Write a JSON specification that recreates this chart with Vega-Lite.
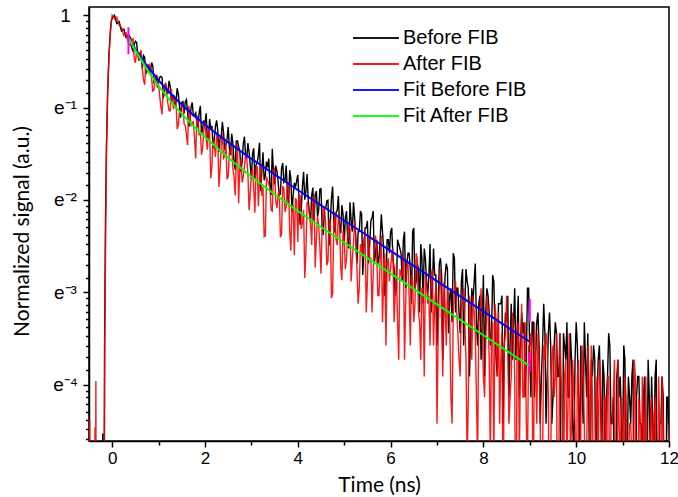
{
"$schema": "https://vega.github.io/schema/vega-lite/v6.json",
"width": 580, "height": 434,
"autosize": {"type": "none"},
"padding": {"left": 89, "top": 7, "right": 9, "bottom": 56},
"background": "white",
"config": {
  "view": {"stroke": "black", "strokeWidth": 1.5},
  "axis": {"grid": false, "domainColor": "black", "domainWidth": 1.5, "tickColor": "black", "tickWidth": 1.5, "labelColor": "black", "titleColor": "black", "labelFont": "Liberation Sans", "labelFontSize": 17, "titleFont": "Lato", "titleFontSize": 21, "titleFontWeight": "normal", "labelOverlap": false, "labelFlush": false},
  "legend": {"orient": "none", "legendX": 277, "legendY": 21, "symbolType": "M-3,0H3", "symbolSize": 235, "symbolStrokeWidth": 2, "labelFont": "Liberation Sans", "labelFontSize": 20, "labelColor": "black", "labelOffset": 17, "padding": 0, "rowPadding": 6, "title": null}
},
"datasets": {
"before": [
{"time":-0.5,"lnsig":-6.5},{"time":-0.21,"lnsig":-6.5},{"time":-0.205,"lnsig":-4.53},{"time":-0.195,"lnsig":-6.5},{"time":-0.18,"lnsig":-6.5},{"time":-0.165,"lnsig":-3.6},{"time":-0.145,"lnsig":-2.25},{"time":-0.125,"lnsig":-1.45},{"time":-0.1,"lnsig":-0.88},{"time":-0.07,"lnsig":-0.43},{"time":-0.04,"lnsig":-0.17},{"time":-0.02,"lnsig":-0.06},{"time":0,"lnsig":-0.03},{"time":0.05,"lnsig":0},{"time":0.1,"lnsig":-0.09},{"time":0.15,"lnsig":-0.07},{"time":0.2,"lnsig":-0.17},{"time":0.25,"lnsig":-0.15},{"time":0.3,"lnsig":-0.24},{"time":0.35,"lnsig":-0.21},
{"time":0.4,"lnsig":-0.249},{"time":0.45,"lnsig":-0.388},{"time":0.5,"lnsig":-0.281},{"time":0.55,"lnsig":-0.422},{"time":0.6,"lnsig":-0.423},{"time":0.65,"lnsig":-0.579},{"time":0.7,"lnsig":-0.454},{"time":0.75,"lnsig":-0.539},{"time":0.8,"lnsig":-0.62},{"time":0.85,"lnsig":-0.512},{"time":0.9,"lnsig":-0.718},{"time":0.95,"lnsig":-0.645},
{"time":1.0,"lnsig":-0.721},{"time":1.05,"lnsig":-0.661},{"time":1.1,"lnsig":-0.897},{"time":1.15,"lnsig":-0.74},{"time":1.2,"lnsig":-0.848},{"time":1.25,"lnsig":-0.764},{"time":1.3,"lnsig":-0.869},{"time":1.35,"lnsig":-0.99},{"time":1.4,"lnsig":-0.79},{"time":1.45,"lnsig":-0.983},{"time":1.5,"lnsig":-0.941},{"time":1.55,"lnsig":-1.063},{"time":1.6,"lnsig":-0.914},{"time":1.65,"lnsig":-1.207},{"time":1.7,"lnsig":-0.995},{"time":1.75,"lnsig":-1.09},{"time":1.8,"lnsig":-1.057},{"time":1.85,"lnsig":-1.213},{"time":1.9,"lnsig":-0.981},{"time":1.95,"lnsig":-1.218},
{"time":2.0,"lnsig":-1.163},{"time":2.05,"lnsig":-1.347},{"time":2.1,"lnsig":-1.124},{"time":2.15,"lnsig":-1.198},{"time":2.2,"lnsig":-1.338},{"time":2.25,"lnsig":-1.138},{"time":2.3,"lnsig":-1.476},{"time":2.35,"lnsig":-1.308},{"time":2.4,"lnsig":-1.272},{"time":2.45,"lnsig":-1.401},{"time":2.5,"lnsig":-1.211},{"time":2.55,"lnsig":-1.515},{"time":2.6,"lnsig":-1.379},{"time":2.65,"lnsig":-1.671},{"time":2.7,"lnsig":-1.359},{"time":2.75,"lnsig":-1.465},{"time":2.8,"lnsig":-1.582},{"time":2.85,"lnsig":-1.314},{"time":2.9,"lnsig":-1.551},{"time":2.95,"lnsig":-1.481},
{"time":3.0,"lnsig":-1.772},{"time":3.05,"lnsig":-1.441},{"time":3.1,"lnsig":-1.619},{"time":3.15,"lnsig":-1.514},{"time":3.2,"lnsig":-1.903},{"time":3.25,"lnsig":-1.483},{"time":3.3,"lnsig":-1.733},{"time":3.35,"lnsig":-1.646},{"time":3.4,"lnsig":-1.845},{"time":3.45,"lnsig":-1.446},{"time":3.5,"lnsig":-1.832},{"time":3.55,"lnsig":-1.688},{"time":3.6,"lnsig":-1.944},{"time":3.65,"lnsig":-1.657},{"time":3.7,"lnsig":-1.807},{"time":3.75,"lnsig":-1.626},{"time":3.8,"lnsig":-2.058},{"time":3.85,"lnsig":-1.763},{"time":3.9,"lnsig":-1.952},{"time":3.95,"lnsig":-1.862},
{"time":4.0,"lnsig":-1.727},{"time":4.05,"lnsig":-2.269},{"time":4.1,"lnsig":-1.85},{"time":4.15,"lnsig":-1.996},{"time":4.2,"lnsig":-1.718},{"time":4.25,"lnsig":-2.137},{"time":4.3,"lnsig":-1.946},{"time":4.35,"lnsig":-2.242},{"time":4.4,"lnsig":-1.904},{"time":4.45,"lnsig":-2.113},{"time":4.5,"lnsig":-1.877},{"time":4.55,"lnsig":-2.38},{"time":4.6,"lnsig":-2.09},{"time":4.65,"lnsig":-2.002},{"time":4.7,"lnsig":-2.267},{"time":4.75,"lnsig":-1.855},{"time":4.8,"lnsig":-2.354},{"time":4.85,"lnsig":-2.113},{"time":4.9,"lnsig":-2.279},{"time":4.95,"lnsig":-2.056},
{"time":5.0,"lnsig":-2.474},{"time":5.05,"lnsig":-2.12},{"time":5.1,"lnsig":-2.525},{"time":5.15,"lnsig":-2.225},{"time":5.2,"lnsig":-2.024},{"time":5.25,"lnsig":-2.43},{"time":5.3,"lnsig":-2.343},{"time":5.35,"lnsig":-2.12},{"time":5.4,"lnsig":-2.813},{"time":5.45,"lnsig":-2.302},{"time":5.5,"lnsig":-2.225},{"time":5.55,"lnsig":-2.476},{"time":5.6,"lnsig":-2.189},{"time":5.65,"lnsig":-2.688},{"time":5.7,"lnsig":-2.43},{"time":5.75,"lnsig":-2.631},{"time":5.8,"lnsig":-2.154},{"time":5.85,"lnsig":-2.525},{"time":5.9,"lnsig":-2.882},{"time":5.95,"lnsig":-2.43},
{"time":6.0,"lnsig":-2.343},{"time":6.05,"lnsig":-2.631},{"time":6.1,"lnsig":-3.036},{"time":6.15,"lnsig":-2.43},{"time":6.2,"lnsig":-2.525},{"time":6.25,"lnsig":-2.882},{"time":6.3,"lnsig":-2.343},{"time":6.35,"lnsig":-2.688},{"time":6.4,"lnsig":-2.577},{"time":6.45,"lnsig":-3.123},{"time":6.5,"lnsig":-2.302},{"time":6.55,"lnsig":-2.882},{"time":6.6,"lnsig":-2.748},{"time":6.65,"lnsig":-2.476},{"time":6.7,"lnsig":-3.123},{"time":6.75,"lnsig":-2.631},{"time":6.8,"lnsig":-3.036},{"time":6.85,"lnsig":-2.476},{"time":6.9,"lnsig":-2.956},{"time":6.95,"lnsig":-2.813},
{"time":7.0,"lnsig":-3.575},{"time":7.05,"lnsig":-2.688},{"time":7.1,"lnsig":-2.813},{"time":7.15,"lnsig":-3.123},{"time":7.2,"lnsig":-2.688},{"time":7.25,"lnsig":-3.442},{"time":7.3,"lnsig":-2.956},{"time":7.35,"lnsig":-2.577},{"time":7.4,"lnsig":-3.218},{"time":7.45,"lnsig":-2.956},{"time":7.5,"lnsig":-3.442},{"time":7.55,"lnsig":-2.748},{"time":7.6,"lnsig":-3.123},{"time":7.65,"lnsig":-2.882},{"time":7.7,"lnsig":-3.912},{"time":7.75,"lnsig":-2.956},{"time":7.8,"lnsig":-2.882},{"time":7.85,"lnsig":-3.324},{"time":7.9,"lnsig":-3.123},{"time":7.95,"lnsig":-3.729},
{"time":8.0,"lnsig":-2.813},{"time":8.05,"lnsig":-3.218},{"time":8.1,"lnsig":-3.036},{"time":8.15,"lnsig":-3.575},{"time":8.2,"lnsig":-2.813},{"time":8.25,"lnsig":-3.442},{"time":8.3,"lnsig":-3.912},{"time":8.35,"lnsig":-3.123},{"time":8.4,"lnsig":-3.036},{"time":8.45,"lnsig":-3.575},{"time":8.5,"lnsig":-3.324},{"time":8.55,"lnsig":-4.135},{"time":8.6,"lnsig":-3.123},{"time":8.65,"lnsig":-3.324},{"time":8.7,"lnsig":-3.729},{"time":8.75,"lnsig":-3.036},{"time":8.8,"lnsig":-3.575},{"time":8.85,"lnsig":-3.442},{"time":8.9,"lnsig":-4.135},{"time":8.95,"lnsig":-2.956},
{"time":9.0,"lnsig":-3.729},{"time":9.05,"lnsig":-3.324},{"time":9.1,"lnsig":-4.135},{"time":9.15,"lnsig":-3.324},{"time":9.2,"lnsig":-3.575},{"time":9.25,"lnsig":-3.912},{"time":9.3,"lnsig":-3.123},{"time":9.35,"lnsig":-4.422},{"time":9.4,"lnsig":-3.442},{"time":9.45,"lnsig":-3.575},{"time":9.5,"lnsig":-4.135},{"time":9.55,"lnsig":-3.324},{"time":9.6,"lnsig":-3.912},{"time":9.65,"lnsig":-3.442},{"time":9.7,"lnsig":-5.521},{"time":9.75,"lnsig":-3.575},{"time":9.8,"lnsig":-3.324},{"time":9.85,"lnsig":-4.135},{"time":9.9,"lnsig":-3.729},{"time":9.95,"lnsig":-4.828},
{"time":10.0,"lnsig":-3.324},{"time":10.05,"lnsig":-4.135},{"time":10.1,"lnsig":-3.575},{"time":10.15,"lnsig":-4.422},{"time":10.2,"lnsig":-3.729},{"time":10.25,"lnsig":-3.442},{"time":10.3,"lnsig":-5.521},{"time":10.35,"lnsig":-3.912},{"time":10.4,"lnsig":-3.729},{"time":10.45,"lnsig":-4.135},{"time":10.5,"lnsig":-3.575},{"time":10.55,"lnsig":-4.828},{"time":10.6,"lnsig":-3.912},{"time":10.65,"lnsig":-4.135},{"time":10.7,"lnsig":-3.442},{"time":10.75,"lnsig":-4.422},{"time":10.8,"lnsig":-4.135},{"time":10.85,"lnsig":-5.521},{"time":10.9,"lnsig":-3.729},{"time":10.95,"lnsig":-3.912},
{"time":11.0,"lnsig":-4.828},{"time":11.05,"lnsig":-3.729},{"time":11.1,"lnsig":-4.828},{"time":11.15,"lnsig":-4.135},{"time":11.2,"lnsig":-3.912},{"time":11.25,"lnsig":-6.5},{"time":11.3,"lnsig":-4.135},{"time":11.35,"lnsig":-3.912},{"time":11.4,"lnsig":-4.422},{"time":11.45,"lnsig":-4.135},{"time":11.5,"lnsig":-5.521},{"time":11.55,"lnsig":-3.729},{"time":11.6,"lnsig":-4.828},{"time":11.65,"lnsig":-4.422},{"time":11.7,"lnsig":-3.912},{"time":11.75,"lnsig":-6.5},{"time":11.8,"lnsig":-4.422},{"time":11.85,"lnsig":-3.912},{"time":11.9,"lnsig":-5.521},{"time":11.95,"lnsig":-4.135},{"time":12.0,"lnsig":-4.828},
{"time":0.425,"lnsig":-0.354},{"time":0.475,"lnsig":-0.317},{"time":0.525,"lnsig":-0.292},{"time":0.575,"lnsig":-0.489},{"time":0.625,"lnsig":-0.449},{"time":0.675,"lnsig":-0.436},{"time":0.725,"lnsig":-0.64},{"time":0.775,"lnsig":-0.541},{"time":0.825,"lnsig":-0.608},{"time":0.875,"lnsig":-0.548},{"time":0.925,"lnsig":-0.692},{"time":0.975,"lnsig":-0.78},
{"time":1.025,"lnsig":-0.671},{"time":1.075,"lnsig":-0.675},{"time":1.125,"lnsig":-0.839},{"time":1.175,"lnsig":-0.802},{"time":1.225,"lnsig":-0.71},{"time":1.275,"lnsig":-0.945},{"time":1.325,"lnsig":-0.866},{"time":1.375,"lnsig":-0.938},{"time":1.425,"lnsig":-0.851},{"time":1.475,"lnsig":-1.108},{"time":1.525,"lnsig":-0.934},{"time":1.575,"lnsig":-0.939},{"time":1.625,"lnsig":-1.052},{"time":1.675,"lnsig":-1.155},{"time":1.725,"lnsig":-0.944},{"time":1.775,"lnsig":-1.083},{"time":1.825,"lnsig":-1.167},{"time":1.875,"lnsig":-1.052},{"time":1.925,"lnsig":-1.289},{"time":1.975,"lnsig":-1.148},
{"time":2.025,"lnsig":-1.062},{"time":2.075,"lnsig":-1.313},{"time":2.125,"lnsig":-1.233},{"time":2.175,"lnsig":-1.439},{"time":2.225,"lnsig":-1.205},{"time":2.275,"lnsig":-1.246},{"time":2.325,"lnsig":-1.332},{"time":2.375,"lnsig":-1.153},{"time":2.425,"lnsig":-1.458},{"time":2.475,"lnsig":-1.345},{"time":2.525,"lnsig":-1.44},{"time":2.575,"lnsig":-1.282},{"time":2.625,"lnsig":-1.575},{"time":2.675,"lnsig":-1.361},{"time":2.725,"lnsig":-1.423},{"time":2.775,"lnsig":-1.694},{"time":2.825,"lnsig":-1.393},{"time":2.875,"lnsig":-1.521},{"time":2.925,"lnsig":-1.384},{"time":2.975,"lnsig":-1.622},
{"time":3.025,"lnsig":-1.498},{"time":3.075,"lnsig":-1.767},{"time":3.125,"lnsig":-1.597},{"time":3.175,"lnsig":-1.38},{"time":3.225,"lnsig":-1.693},{"time":3.275,"lnsig":-1.787},{"time":3.325,"lnsig":-1.585},{"time":3.375,"lnsig":-1.551},{"time":3.425,"lnsig":-1.947},{"time":3.475,"lnsig":-1.688},{"time":3.525,"lnsig":-1.627},{"time":3.575,"lnsig":-1.795},{"time":3.625,"lnsig":-1.937},{"time":3.675,"lnsig":-1.601},{"time":3.725,"lnsig":-1.786},{"time":3.775,"lnsig":-1.91},{"time":3.825,"lnsig":-1.677},{"time":3.875,"lnsig":-2.13},{"time":3.925,"lnsig":-1.815},{"time":3.975,"lnsig":-1.793},
{"time":4.025,"lnsig":-1.991},{"time":4.075,"lnsig":-2.097},{"time":4.125,"lnsig":-1.694},{"time":4.175,"lnsig":-1.905},{"time":4.225,"lnsig":-2.003},{"time":4.275,"lnsig":-2.235},{"time":4.325,"lnsig":-1.865},{"time":4.375,"lnsig":-1.941},{"time":4.425,"lnsig":-2.177},{"time":4.475,"lnsig":-1.884},{"time":4.525,"lnsig":-2.3},{"time":4.575,"lnsig":-2.082},{"time":4.625,"lnsig":-2.009},{"time":4.675,"lnsig":-2.493},{"time":4.725,"lnsig":-1.982},{"time":4.775,"lnsig":-2.22},{"time":4.825,"lnsig":-2.135},{"time":4.875,"lnsig":-1.956},{"time":4.925,"lnsig":-2.36},{"time":4.975,"lnsig":-2.154},
{"time":5.025,"lnsig":-2.189},{"time":5.075,"lnsig":-2.43},{"time":5.125,"lnsig":-2.024},{"time":5.175,"lnsig":-2.343},{"time":5.225,"lnsig":-2.189},{"time":5.275,"lnsig":-2.688},{"time":5.325,"lnsig":-2.343},{"time":5.375,"lnsig":-2.154},{"time":5.425,"lnsig":-2.525},{"time":5.475,"lnsig":-2.302},{"time":5.525,"lnsig":-2.688},{"time":5.575,"lnsig":-2.225},{"time":5.625,"lnsig":-2.12},{"time":5.675,"lnsig":-2.577},{"time":5.725,"lnsig":-2.688},{"time":5.775,"lnsig":-2.43},{"time":5.825,"lnsig":-2.343},{"time":5.875,"lnsig":-3.036},{"time":5.925,"lnsig":-2.43},{"time":5.975,"lnsig":-2.577},
{"time":6.025,"lnsig":-2.302},{"time":6.075,"lnsig":-2.748},{"time":6.125,"lnsig":-2.956},{"time":6.175,"lnsig":-2.476},{"time":6.225,"lnsig":-2.577},{"time":6.275,"lnsig":-2.43},{"time":6.325,"lnsig":-2.956},{"time":6.375,"lnsig":-2.577},{"time":6.425,"lnsig":-2.748},{"time":6.475,"lnsig":-2.343},{"time":6.525,"lnsig":-2.956},{"time":6.575,"lnsig":-2.688},{"time":6.625,"lnsig":-3.218},{"time":6.675,"lnsig":-2.631},{"time":6.725,"lnsig":-2.525},{"time":6.775,"lnsig":-2.882},{"time":6.825,"lnsig":-2.813},{"time":6.875,"lnsig":-3.218},{"time":6.925,"lnsig":-2.525},{"time":6.975,"lnsig":-2.813},
{"time":7.025,"lnsig":-3.123},{"time":7.075,"lnsig":-2.631},{"time":7.125,"lnsig":-3.729},{"time":7.175,"lnsig":-2.813},{"time":7.225,"lnsig":-2.748},{"time":7.275,"lnsig":-3.036},{"time":7.325,"lnsig":-3.324},{"time":7.375,"lnsig":-2.631},{"time":7.425,"lnsig":-2.956},{"time":7.475,"lnsig":-3.218},{"time":7.525,"lnsig":-2.882},{"time":7.575,"lnsig":-3.575},{"time":7.625,"lnsig":-2.748},{"time":7.675,"lnsig":-2.956},{"time":7.725,"lnsig":-3.442},{"time":7.775,"lnsig":-3.123},{"time":7.825,"lnsig":-2.688},{"time":7.875,"lnsig":-3.575},{"time":7.925,"lnsig":-3.036},{"time":7.975,"lnsig":-3.324},
{"time":8.025,"lnsig":-3.912},{"time":8.075,"lnsig":-2.956},{"time":8.125,"lnsig":-3.218},{"time":8.175,"lnsig":-3.442},{"time":8.225,"lnsig":-2.882},{"time":8.275,"lnsig":-3.729},{"time":8.325,"lnsig":-3.123},{"time":8.375,"lnsig":-3.123},{"time":8.425,"lnsig":-4.422},{"time":8.475,"lnsig":-3.218},{"time":8.525,"lnsig":-3.036},{"time":8.575,"lnsig":-3.575},{"time":8.625,"lnsig":-3.729},{"time":8.675,"lnsig":-2.956},{"time":8.725,"lnsig":-3.442},{"time":8.775,"lnsig":-4.135},{"time":8.825,"lnsig":-3.218},{"time":8.875,"lnsig":-3.324},{"time":8.925,"lnsig":-3.729},{"time":8.975,"lnsig":-2.956},
{"time":9.025,"lnsig":-4.135},{"time":9.075,"lnsig":-3.324},{"time":9.125,"lnsig":-3.729},{"time":9.175,"lnsig":-3.218},{"time":9.225,"lnsig":-4.422},{"time":9.275,"lnsig":-3.575},{"time":9.325,"lnsig":-3.442},{"time":9.375,"lnsig":-3.912},{"time":9.425,"lnsig":-3.218},{"time":9.475,"lnsig":-4.422},{"time":9.525,"lnsig":-3.575},{"time":9.575,"lnsig":-3.442},{"time":9.625,"lnsig":-3.912},{"time":9.675,"lnsig":-5.521},{"time":9.725,"lnsig":-3.442},{"time":9.775,"lnsig":-3.729},{"time":9.825,"lnsig":-4.135},{"time":9.875,"lnsig":-3.442},{"time":9.925,"lnsig":-4.422},{"time":9.975,"lnsig":-3.729},
{"time":10.025,"lnsig":-3.575},{"time":10.075,"lnsig":-4.828},{"time":10.125,"lnsig":-3.912},{"time":10.175,"lnsig":-3.324},{"time":10.225,"lnsig":-4.135},{"time":10.275,"lnsig":-4.422},{"time":10.325,"lnsig":-3.729},{"time":10.375,"lnsig":-3.575},{"time":10.425,"lnsig":-5.521},{"time":10.475,"lnsig":-3.729},{"time":10.525,"lnsig":-4.135},{"time":10.575,"lnsig":-3.729},{"time":10.625,"lnsig":-4.828},{"time":10.675,"lnsig":-3.912},{"time":10.725,"lnsig":-3.575},{"time":10.775,"lnsig":-4.422},{"time":10.825,"lnsig":-5.521},{"time":10.875,"lnsig":-3.912},{"time":10.925,"lnsig":-4.135},{"time":10.975,"lnsig":-4.422},
{"time":11.025,"lnsig":-3.575},{"time":11.075,"lnsig":-4.828},{"time":11.125,"lnsig":-3.912},{"time":11.175,"lnsig":-4.422},{"time":11.225,"lnsig":-3.729},{"time":11.275,"lnsig":-6.5},{"time":11.325,"lnsig":-3.912},{"time":11.375,"lnsig":-4.422},{"time":11.425,"lnsig":-4.828},{"time":11.475,"lnsig":-3.912},{"time":11.525,"lnsig":-5.521},{"time":11.575,"lnsig":-4.135},{"time":11.625,"lnsig":-3.912},{"time":11.675,"lnsig":-4.828},{"time":11.725,"lnsig":-3.729},{"time":11.775,"lnsig":-5.521},{"time":11.825,"lnsig":-4.422},{"time":11.875,"lnsig":-4.135},{"time":11.925,"lnsig":-6.5},{"time":11.975,"lnsig":-4.135}
],
"after": [
{"time":-0.5,"lnsig":-6.5},{"time":-0.485,"lnsig":-4.37},{"time":-0.47,"lnsig":-6.5},{"time":-0.38,"lnsig":-6.5},{"time":-0.372,"lnsig":-4.46},{"time":-0.362,"lnsig":-6.5},{"time":-0.352,"lnsig":-3.96},{"time":-0.342,"lnsig":-6.5},{"time":-0.18,"lnsig":-6.5},{"time":-0.16,"lnsig":-3.6},{"time":-0.14,"lnsig":-2.3},{"time":-0.12,"lnsig":-1.4},{"time":-0.1,"lnsig":-0.85},{"time":-0.07,"lnsig":-0.45},{"time":-0.04,"lnsig":-0.2},{"time":-0.02,"lnsig":-0.08},{"time":0,"lnsig":0},{"time":0.05,"lnsig":-0.04},{"time":0.1,"lnsig":-0.02},{"time":0.15,"lnsig":-0.11},{"time":0.2,"lnsig":-0.13},{"time":0.25,"lnsig":-0.22},{"time":0.3,"lnsig":-0.19},{"time":0.35,"lnsig":-0.3},
{"time":0.4,"lnsig":-0.33},{"time":0.45,"lnsig":-0.254},{"time":0.5,"lnsig":-0.515},{"time":0.55,"lnsig":-0.405},{"time":0.6,"lnsig":-0.406},{"time":0.65,"lnsig":-0.586},{"time":0.7,"lnsig":-0.752},{"time":0.75,"lnsig":-0.545},{"time":0.8,"lnsig":-0.525},{"time":0.85,"lnsig":-0.688},{"time":0.9,"lnsig":-0.807},{"time":0.95,"lnsig":-0.657},
{"time":1.0,"lnsig":-0.756},{"time":1.05,"lnsig":-0.995},{"time":1.1,"lnsig":-0.772},{"time":1.15,"lnsig":-0.728},{"time":1.2,"lnsig":-0.955},{"time":1.25,"lnsig":-1.036},{"time":1.3,"lnsig":-0.926},{"time":1.35,"lnsig":-0.878},{"time":1.4,"lnsig":-1.233},{"time":1.45,"lnsig":-1.039},{"time":1.5,"lnsig":-0.98},{"time":1.55,"lnsig":-1.18},{"time":1.6,"lnsig":-1.292},{"time":1.65,"lnsig":-0.981},{"time":1.7,"lnsig":-1.201},{"time":1.75,"lnsig":-1.154},{"time":1.8,"lnsig":-1.551},{"time":1.85,"lnsig":-1.147},{"time":1.9,"lnsig":-1.248},{"time":1.95,"lnsig":-1.437},
{"time":2.0,"lnsig":-1.156},{"time":2.05,"lnsig":-1.455},{"time":2.1,"lnsig":-1.288},{"time":2.15,"lnsig":-1.63},{"time":2.2,"lnsig":-1.396},{"time":2.25,"lnsig":-1.306},{"time":2.3,"lnsig":-1.859},{"time":2.35,"lnsig":-1.414},{"time":2.4,"lnsig":-1.547},{"time":2.45,"lnsig":-1.371},{"time":2.5,"lnsig":-1.743},{"time":2.55,"lnsig":-1.466},{"time":2.6,"lnsig":-1.657},{"time":2.65,"lnsig":-1.951},{"time":2.7,"lnsig":-1.401},{"time":2.75,"lnsig":-1.646},{"time":2.8,"lnsig":-1.812},{"time":2.85,"lnsig":-1.631},{"time":2.9,"lnsig":-1.553},{"time":2.95,"lnsig":-2.11},
{"time":3.0,"lnsig":-1.702},{"time":3.05,"lnsig":-1.868},{"time":3.1,"lnsig":-1.647},{"time":3.15,"lnsig":-2.067},{"time":3.2,"lnsig":-1.607},{"time":3.25,"lnsig":-1.863},{"time":3.3,"lnsig":-2.386},{"time":3.35,"lnsig":-1.788},{"time":3.4,"lnsig":-1.869},{"time":3.45,"lnsig":-2.121},{"time":3.5,"lnsig":-1.649},{"time":3.55,"lnsig":-2.089},{"time":3.6,"lnsig":-1.889},{"time":3.65,"lnsig":-2.368},{"time":3.7,"lnsig":-1.874},{"time":3.75,"lnsig":-2.072},{"time":3.8,"lnsig":-1.842},{"time":3.85,"lnsig":-2.55},{"time":3.9,"lnsig":-2.065},{"time":3.95,"lnsig":-1.981},
{"time":4.0,"lnsig":-2.455},{"time":4.05,"lnsig":-1.951},{"time":4.1,"lnsig":-2.249},{"time":4.15,"lnsig":-2.844},{"time":4.2,"lnsig":-2.022},{"time":4.25,"lnsig":-2.151},{"time":4.3,"lnsig":-2.488},{"time":4.35,"lnsig":-1.964},{"time":4.4,"lnsig":-2.426},{"time":4.45,"lnsig":-2.276},{"time":4.5,"lnsig":-2.799},{"time":4.55,"lnsig":-2.085},{"time":4.6,"lnsig":-2.244},{"time":4.65,"lnsig":-2.663},{"time":4.7,"lnsig":-2.237},{"time":4.75,"lnsig":-3.017},{"time":4.8,"lnsig":-2.127},{"time":4.85,"lnsig":-2.49},{"time":4.9,"lnsig":-2.263},{"time":4.95,"lnsig":-2.869},
{"time":5.0,"lnsig":-2.419},{"time":5.05,"lnsig":-2.631},{"time":5.1,"lnsig":-2.263},{"time":5.15,"lnsig":-2.882},{"time":5.2,"lnsig":-2.476},{"time":5.25,"lnsig":-2.386},{"time":5.3,"lnsig":-3.123},{"time":5.35,"lnsig":-2.476},{"time":5.4,"lnsig":-2.631},{"time":5.45,"lnsig":-2.343},{"time":5.5,"lnsig":-2.882},{"time":5.55,"lnsig":-2.631},{"time":5.6,"lnsig":-3.218},{"time":5.65,"lnsig":-2.476},{"time":5.7,"lnsig":-2.577},{"time":5.75,"lnsig":-3.036},{"time":5.8,"lnsig":-2.386},{"time":5.85,"lnsig":-2.882},{"time":5.9,"lnsig":-3.575},{"time":5.95,"lnsig":-2.631},
{"time":6.0,"lnsig":-2.748},{"time":6.05,"lnsig":-2.525},{"time":6.1,"lnsig":-3.036},{"time":6.15,"lnsig":-3.324},{"time":6.2,"lnsig":-2.748},{"time":6.25,"lnsig":-2.813},{"time":6.3,"lnsig":-3.729},{"time":6.35,"lnsig":-2.688},{"time":6.4,"lnsig":-3.036},{"time":6.45,"lnsig":-2.813},{"time":6.5,"lnsig":-3.324},{"time":6.55,"lnsig":-2.577},{"time":6.6,"lnsig":-3.218},{"time":6.65,"lnsig":-3.729},{"time":6.7,"lnsig":-2.956},{"time":6.75,"lnsig":-2.813},{"time":6.8,"lnsig":-3.123},{"time":6.85,"lnsig":-3.575},{"time":6.9,"lnsig":-2.748},{"time":6.95,"lnsig":-3.123},
{"time":7.0,"lnsig":-4.422},{"time":7.05,"lnsig":-2.956},{"time":7.1,"lnsig":-3.324},{"time":7.15,"lnsig":-2.882},{"time":7.2,"lnsig":-3.575},{"time":7.25,"lnsig":-3.123},{"time":7.3,"lnsig":-4.135},{"time":7.35,"lnsig":-3.218},{"time":7.4,"lnsig":-2.882},{"time":7.45,"lnsig":-3.442},{"time":7.5,"lnsig":-3.912},{"time":7.55,"lnsig":-3.123},{"time":7.6,"lnsig":-3.324},{"time":7.65,"lnsig":-4.828},{"time":7.7,"lnsig":-3.036},{"time":7.75,"lnsig":-3.729},{"time":7.8,"lnsig":-3.218},{"time":7.85,"lnsig":-4.135},{"time":7.9,"lnsig":-3.324},{"time":7.95,"lnsig":-2.956},
{"time":8.0,"lnsig":-3.912},{"time":8.05,"lnsig":-3.575},{"time":8.1,"lnsig":-3.218},{"time":8.15,"lnsig":-4.828},{"time":8.2,"lnsig":-3.324},{"time":8.25,"lnsig":-3.123},{"time":8.3,"lnsig":-3.912},{"time":8.35,"lnsig":-4.422},{"time":8.4,"lnsig":-3.442},{"time":8.45,"lnsig":-3.575},{"time":8.5,"lnsig":-3.036},{"time":8.55,"lnsig":-4.422},{"time":8.6,"lnsig":-3.912},{"time":8.65,"lnsig":-3.442},{"time":8.7,"lnsig":-6.5},{"time":8.75,"lnsig":-3.324},{"time":8.8,"lnsig":-3.729},{"time":8.85,"lnsig":-4.135},{"time":8.9,"lnsig":-3.324},{"time":8.95,"lnsig":-4.828},
{"time":9.0,"lnsig":-3.575},{"time":9.05,"lnsig":-3.912},{"time":9.1,"lnsig":-3.324},{"time":9.15,"lnsig":-4.422},{"time":9.2,"lnsig":-3.729},{"time":9.25,"lnsig":-5.521},{"time":9.3,"lnsig":-3.575},{"time":9.35,"lnsig":-3.442},{"time":9.4,"lnsig":-4.135},{"time":9.45,"lnsig":-4.828},{"time":9.5,"lnsig":-3.575},{"time":9.55,"lnsig":-3.912},{"time":9.6,"lnsig":-6.5},{"time":9.65,"lnsig":-3.442},{"time":9.7,"lnsig":-4.422},{"time":9.75,"lnsig":-3.912},{"time":9.8,"lnsig":-4.828},{"time":9.85,"lnsig":-3.442},{"time":9.9,"lnsig":-4.422},{"time":9.95,"lnsig":-4.135},
{"time":10.0,"lnsig":-5.521},{"time":10.05,"lnsig":-3.729},{"time":10.1,"lnsig":-4.422},{"time":10.15,"lnsig":-3.912},{"time":10.2,"lnsig":-5.521},{"time":10.25,"lnsig":-3.575},{"time":10.3,"lnsig":-4.828},{"time":10.35,"lnsig":-4.135},{"time":10.4,"lnsig":-6.5},{"time":10.45,"lnsig":-3.912},{"time":10.5,"lnsig":-3.729},{"time":10.55,"lnsig":-4.828},{"time":10.6,"lnsig":-4.135},{"time":10.65,"lnsig":-5.521},{"time":10.7,"lnsig":-3.912},{"time":10.75,"lnsig":-4.422},{"time":10.8,"lnsig":-4.135},{"time":10.85,"lnsig":-6.5},{"time":10.9,"lnsig":-3.729},{"time":10.95,"lnsig":-4.828},
{"time":11.0,"lnsig":-4.422},{"time":11.05,"lnsig":-3.912},{"time":11.1,"lnsig":-5.521},{"time":11.15,"lnsig":-4.422},{"time":11.2,"lnsig":-4.828},{"time":11.25,"lnsig":-3.729},{"time":11.3,"lnsig":-6.5},{"time":11.35,"lnsig":-4.135},{"time":11.4,"lnsig":-5.521},{"time":11.45,"lnsig":-4.422},{"time":11.5,"lnsig":-3.912},{"time":11.55,"lnsig":-6.5},{"time":11.6,"lnsig":-4.422},{"time":11.65,"lnsig":-4.828},{"time":11.7,"lnsig":-4.135},{"time":11.75,"lnsig":-5.521},{"time":11.8,"lnsig":-4.422},{"time":11.85,"lnsig":-3.912},{"time":11.9,"lnsig":-6.5},{"time":11.95,"lnsig":-4.828},{"time":12.0,"lnsig":-4.422},
{"time":0.425,"lnsig":-0.263},{"time":0.475,"lnsig":-0.471},{"time":0.525,"lnsig":-0.385},{"time":0.575,"lnsig":-0.494},{"time":0.625,"lnsig":-0.379},{"time":0.675,"lnsig":-0.7},{"time":0.725,"lnsig":-0.533},{"time":0.775,"lnsig":-0.624},{"time":0.825,"lnsig":-0.567},{"time":0.875,"lnsig":-0.821},{"time":0.925,"lnsig":-0.711},{"time":0.975,"lnsig":-0.659},
{"time":1.025,"lnsig":-0.88},{"time":1.075,"lnsig":-1.072},{"time":1.125,"lnsig":-0.798},{"time":1.175,"lnsig":-0.849},{"time":1.225,"lnsig":-1.033},{"time":1.275,"lnsig":-0.797},{"time":1.325,"lnsig":-1.017},{"time":1.375,"lnsig":-0.93},{"time":1.425,"lnsig":-1.186},{"time":1.475,"lnsig":-1.044},{"time":1.525,"lnsig":-0.971},{"time":1.575,"lnsig":-1.193},{"time":1.625,"lnsig":-1.405},{"time":1.675,"lnsig":-1.071},{"time":1.725,"lnsig":-1.163},{"time":1.775,"lnsig":-1.339},{"time":1.825,"lnsig":-1.08},{"time":1.875,"lnsig":-1.301},{"time":1.925,"lnsig":-1.511},{"time":1.975,"lnsig":-1.24},
{"time":2.025,"lnsig":-1.33},{"time":2.075,"lnsig":-1.202},{"time":2.125,"lnsig":-1.765},{"time":2.175,"lnsig":-1.347},{"time":2.225,"lnsig":-1.533},{"time":2.275,"lnsig":-1.33},{"time":2.325,"lnsig":-1.66},{"time":2.375,"lnsig":-1.275},{"time":2.425,"lnsig":-1.526},{"time":2.475,"lnsig":-1.776},{"time":2.525,"lnsig":-1.484},{"time":2.575,"lnsig":-1.42},{"time":2.625,"lnsig":-1.74},{"time":2.675,"lnsig":-1.573},{"time":2.725,"lnsig":-2.036},{"time":2.775,"lnsig":-1.558},{"time":2.825,"lnsig":-1.749},{"time":2.875,"lnsig":-1.515},{"time":2.925,"lnsig":-1.718},{"time":2.975,"lnsig":-1.938},
{"time":3.025,"lnsig":-1.664},{"time":3.075,"lnsig":-2.139},{"time":3.125,"lnsig":-1.641},{"time":3.175,"lnsig":-1.783},{"time":3.225,"lnsig":-1.954},{"time":3.275,"lnsig":-2.397},{"time":3.325,"lnsig":-1.747},{"time":3.375,"lnsig":-1.828},{"time":3.425,"lnsig":-2.111},{"time":3.475,"lnsig":-1.696},{"time":3.525,"lnsig":-2.013},{"time":3.575,"lnsig":-1.948},{"time":3.625,"lnsig":-2.403},{"time":3.675,"lnsig":-1.848},{"time":3.725,"lnsig":-2.13},{"time":3.775,"lnsig":-1.833},{"time":3.825,"lnsig":-2.342},{"time":3.875,"lnsig":-2.073},{"time":3.925,"lnsig":-2.599},{"time":3.975,"lnsig":-2.007},
{"time":4.025,"lnsig":-1.942},{"time":4.075,"lnsig":-2.313},{"time":4.125,"lnsig":-2.107},{"time":4.175,"lnsig":-2.564},{"time":4.225,"lnsig":-2.049},{"time":4.275,"lnsig":-2.263},{"time":4.325,"lnsig":-1.973},{"time":4.375,"lnsig":-2.731},{"time":4.425,"lnsig":-2.175},{"time":4.475,"lnsig":-2.501},{"time":4.525,"lnsig":-2.26},{"time":4.575,"lnsig":-2.093},{"time":4.625,"lnsig":-2.708},{"time":4.675,"lnsig":-2.208},{"time":4.725,"lnsig":-3.062},{"time":4.775,"lnsig":-2.303},{"time":4.825,"lnsig":-2.428},{"time":4.875,"lnsig":-2.152},{"time":4.925,"lnsig":-2.728},{"time":4.975,"lnsig":-2.329},
{"time":5.025,"lnsig":-2.748},{"time":5.075,"lnsig":-2.386},{"time":5.125,"lnsig":-2.302},{"time":5.175,"lnsig":-2.631},{"time":5.225,"lnsig":-2.225},{"time":5.275,"lnsig":-2.748},{"time":5.325,"lnsig":-2.956},{"time":5.375,"lnsig":-2.525},{"time":5.425,"lnsig":-2.43},{"time":5.475,"lnsig":-3.218},{"time":5.525,"lnsig":-2.386},{"time":5.575,"lnsig":-2.631},{"time":5.625,"lnsig":-2.813},{"time":5.675,"lnsig":-2.386},{"time":5.725,"lnsig":-3.036},{"time":5.775,"lnsig":-2.631},{"time":5.825,"lnsig":-3.324},{"time":5.875,"lnsig":-2.577},{"time":5.925,"lnsig":-2.688},{"time":5.975,"lnsig":-2.882},
{"time":6.025,"lnsig":-2.577},{"time":6.075,"lnsig":-3.324},{"time":6.125,"lnsig":-2.688},{"time":6.175,"lnsig":-3.729},{"time":6.225,"lnsig":-2.813},{"time":6.275,"lnsig":-2.577},{"time":6.325,"lnsig":-3.123},{"time":6.375,"lnsig":-2.688},{"time":6.425,"lnsig":-3.575},{"time":6.475,"lnsig":-2.882},{"time":6.525,"lnsig":-3.123},{"time":6.575,"lnsig":-2.631},{"time":6.625,"lnsig":-3.324},{"time":6.675,"lnsig":-2.956},{"time":6.725,"lnsig":-3.912},{"time":6.775,"lnsig":-2.882},{"time":6.825,"lnsig":-3.036},{"time":6.875,"lnsig":-2.813},{"time":6.925,"lnsig":-3.575},{"time":6.975,"lnsig":-2.956},
{"time":7.025,"lnsig":-3.442},{"time":7.075,"lnsig":-2.748},{"time":7.125,"lnsig":-3.912},{"time":7.175,"lnsig":-3.123},{"time":7.225,"lnsig":-2.956},{"time":7.275,"lnsig":-3.324},{"time":7.325,"lnsig":-4.422},{"time":7.375,"lnsig":-2.956},{"time":7.425,"lnsig":-3.218},{"time":7.475,"lnsig":-3.729},{"time":7.525,"lnsig":-3.123},{"time":7.575,"lnsig":-2.956},{"time":7.625,"lnsig":-3.729},{"time":7.675,"lnsig":-4.135},{"time":7.725,"lnsig":-3.218},{"time":7.775,"lnsig":-3.036},{"time":7.825,"lnsig":-3.442},{"time":7.875,"lnsig":-4.828},{"time":7.925,"lnsig":-3.218},{"time":7.975,"lnsig":-3.442},
{"time":8.025,"lnsig":-4.135},{"time":8.075,"lnsig":-3.036},{"time":8.125,"lnsig":-3.729},{"time":8.175,"lnsig":-3.442},{"time":8.225,"lnsig":-4.828},{"time":8.275,"lnsig":-3.324},{"time":8.325,"lnsig":-3.218},{"time":8.375,"lnsig":-3.729},{"time":8.425,"lnsig":-5.521},{"time":8.475,"lnsig":-3.442},{"time":8.525,"lnsig":-3.575},{"time":8.575,"lnsig":-4.135},{"time":8.625,"lnsig":-3.218},{"time":8.675,"lnsig":-3.912},{"time":8.725,"lnsig":-3.442},{"time":8.775,"lnsig":-4.828},{"time":8.825,"lnsig":-3.123},{"time":8.875,"lnsig":-4.135},{"time":8.925,"lnsig":-4.422},{"time":8.975,"lnsig":-3.575},
{"time":9.025,"lnsig":-3.442},{"time":9.075,"lnsig":-5.521},{"time":9.125,"lnsig":-3.729},{"time":9.175,"lnsig":-3.442},{"time":9.225,"lnsig":-4.422},{"time":9.275,"lnsig":-4.828},{"time":9.325,"lnsig":-3.729},{"time":9.375,"lnsig":-3.575},{"time":9.425,"lnsig":-6.5},{"time":9.475,"lnsig":-3.729},{"time":9.525,"lnsig":-4.135},{"time":9.575,"lnsig":-3.442},{"time":9.625,"lnsig":-4.828},{"time":9.675,"lnsig":-3.912},{"time":9.725,"lnsig":-5.521},{"time":9.775,"lnsig":-3.729},{"time":9.825,"lnsig":-4.135},{"time":9.875,"lnsig":-4.828},{"time":9.925,"lnsig":-3.729},{"time":9.975,"lnsig":-4.422},
{"time":10.025,"lnsig":-3.912},{"time":10.075,"lnsig":-6.5},{"time":10.125,"lnsig":-3.575},{"time":10.175,"lnsig":-4.422},{"time":10.225,"lnsig":-4.828},{"time":10.275,"lnsig":-3.912},{"time":10.325,"lnsig":-3.575},{"time":10.375,"lnsig":-5.521},{"time":10.425,"lnsig":-4.135},{"time":10.475,"lnsig":-4.828},{"time":10.525,"lnsig":-3.912},{"time":10.575,"lnsig":-6.5},{"time":10.625,"lnsig":-4.135},{"time":10.675,"lnsig":-3.912},{"time":10.725,"lnsig":-5.521},{"time":10.775,"lnsig":-4.422},{"time":10.825,"lnsig":-3.729},{"time":10.875,"lnsig":-6.5},{"time":10.925,"lnsig":-4.422},{"time":10.975,"lnsig":-4.135},
{"time":11.025,"lnsig":-5.521},{"time":11.075,"lnsig":-4.135},{"time":11.125,"lnsig":-4.828},{"time":11.175,"lnsig":-4.422},{"time":11.225,"lnsig":-6.5},{"time":11.275,"lnsig":-3.912},{"time":11.325,"lnsig":-5.521},{"time":11.375,"lnsig":-4.422},{"time":11.425,"lnsig":-3.912},{"time":11.475,"lnsig":-5.521},{"time":11.525,"lnsig":-4.828},{"time":11.575,"lnsig":-6.5},{"time":11.625,"lnsig":-4.135},{"time":11.675,"lnsig":-4.422},{"time":11.725,"lnsig":-5.521},{"time":11.775,"lnsig":-3.912},{"time":11.825,"lnsig":-6.5},{"time":11.875,"lnsig":-4.422},{"time":11.925,"lnsig":-4.828},{"time":11.975,"lnsig":-5.521}
],
"fitBefore": [
{"time":0.37,"lnsig":-0.26},{"time":0.5,"lnsig":-0.365},{"time":0.75,"lnsig":-0.546},{"time":1.0,"lnsig":-0.705},{"time":1.25,"lnsig":-0.844},{"time":1.5,"lnsig":-0.968},{"time":1.75,"lnsig":-1.081},{"time":2.0,"lnsig":-1.185},{"time":2.5,"lnsig":-1.376},{"time":3.0,"lnsig":-1.554},{"time":4.0,"lnsig":-1.892},{"time":5.0,"lnsig":-2.222},{"time":6.0,"lnsig":-2.551},{"time":7.0,"lnsig":-2.879},{"time":8.0,"lnsig":-3.207},{"time":9.0,"lnsig":-3.535}
],
"fitAfter": [
{"time":0.37,"lnsig":-0.26},{"time":0.5,"lnsig":-0.38},{"time":0.75,"lnsig":-0.585},{"time":1.0,"lnsig":-0.765},{"time":1.25,"lnsig":-0.925},{"time":1.5,"lnsig":-1.068},{"time":1.75,"lnsig":-1.198},{"time":2.0,"lnsig":-1.318},{"time":2.5,"lnsig":-1.543},{"time":3.0,"lnsig":-1.748},{"time":3.5,"lnsig":-1.938},{"time":4.0,"lnsig":-2.118},{"time":4.5,"lnsig":-2.293},{"time":5.0,"lnsig":-2.46},{"time":6.0,"lnsig":-2.795},{"time":7.0,"lnsig":-3.13},{"time":8.0,"lnsig":-3.465},{"time":9.0,"lnsig":-3.8}
],
"markers": [
{"time":0.35,"lnsig":-0.42,"hi":-0.13},{"time":9.0,"lnsig":-3.32,"hi":-3.07},{"time":9.0,"lnsig":-3.86,"hi":-3.65}
]
},
"encoding": {
  "x": {"field": "time", "type": "quantitative",
    "scale": {"domain": [-0.5, 12], "nice": false, "zero": false},
    "axis": {"title": "Time (ns)", "values": [0,1,2,3,4,5,6,7,8,9,10,11,12],
      "labelExpr": "datum.value % 2 === 0 ? datum.label : ''",
      "tickSize": {"condition": {"test": "datum.value % 2 === 0", "value": 6}, "value": 4},
      "labelPadding": 3, "titleX": 290, "titleY": 44, "titleBaseline": "middle", "titleAnchor": "middle"}},
  "y": {"field": "lnsig", "type": "quantitative",
    "scale": {"domain": [-4.61, 0.09], "nice": false, "zero": false},
    "axis": {"title": "Normalized signal (a.u.)",
      "values": [0,-0.0653,-0.13516,-0.21027,-0.29148,-0.37988,-0.47687,-0.58425,-0.7046,-0.84143,-1,-1.0653,-1.13516,-1.21027,-1.29148,-1.37988,-1.47687,-1.58425,-1.7046,-1.84143,-2,-2.0653,-2.13516,-2.21027,-2.29148,-2.37988,-2.47687,-2.58425,-2.7046,-2.84143,-3,-3.0653,-3.13516,-3.21027,-3.29148,-3.37988,-3.47687,-3.58425,-3.7046,-3.84143,-4,-4.0653,-4.13516,-4.21027,-4.29148,-4.37988,-4.47687,-4.58425],
      "labelExpr": "datum.value === 0 ? '1' : datum.value === -1 ? 'e⁻¹' : datum.value === -2 ? 'e⁻²' : datum.value === -3 ? 'e⁻³' : datum.value === -4 ? 'e⁻⁴' : ''",
      "tickSize": {"condition": {"test": "datum.value === round(datum.value)", "value": 6}, "value": 3.5},
      "labelFontSize": 19, "labelAlign": "center", "labelPadding": 18,
      "titleX": -67, "titleY": 224, "titleBaseline": "middle", "titleAngle": -90, "titleAnchor": "middle"}}
},
"layer": [
  {"data": {"name": "before"}, "mark": {"type": "line", "strokeWidth": 1.4, "clip": true},
   "encoding": {"color": {"datum": "Before FIB", "type": "nominal",
     "scale": {"domain": ["Before FIB", "After FIB", "Fit Before FIB", "Fit After FIB"], "range": ["#000000", "#ff0000", "#0000ff", "#00ff00"]}}}},
  {"data": {"name": "after"}, "mark": {"type": "line", "strokeWidth": 1.4, "clip": true, "opacity": 0.9},
   "encoding": {"color": {"datum": "After FIB", "type": "nominal"}}},
  {"data": {"name": "fitBefore"}, "mark": {"type": "line", "strokeWidth": 2, "clip": true},
   "encoding": {"color": {"datum": "Fit Before FIB", "type": "nominal"}}},
  {"data": {"name": "fitAfter"}, "mark": {"type": "line", "strokeWidth": 2, "clip": true},
   "encoding": {"color": {"datum": "Fit After FIB", "type": "nominal"}}},
  {"data": {"name": "markers"}, "mark": {"type": "rule", "color": "#ff00ff", "strokeWidth": 2, "clip": true},
   "encoding": {"y2": {"field": "hi"}}}
]
}
